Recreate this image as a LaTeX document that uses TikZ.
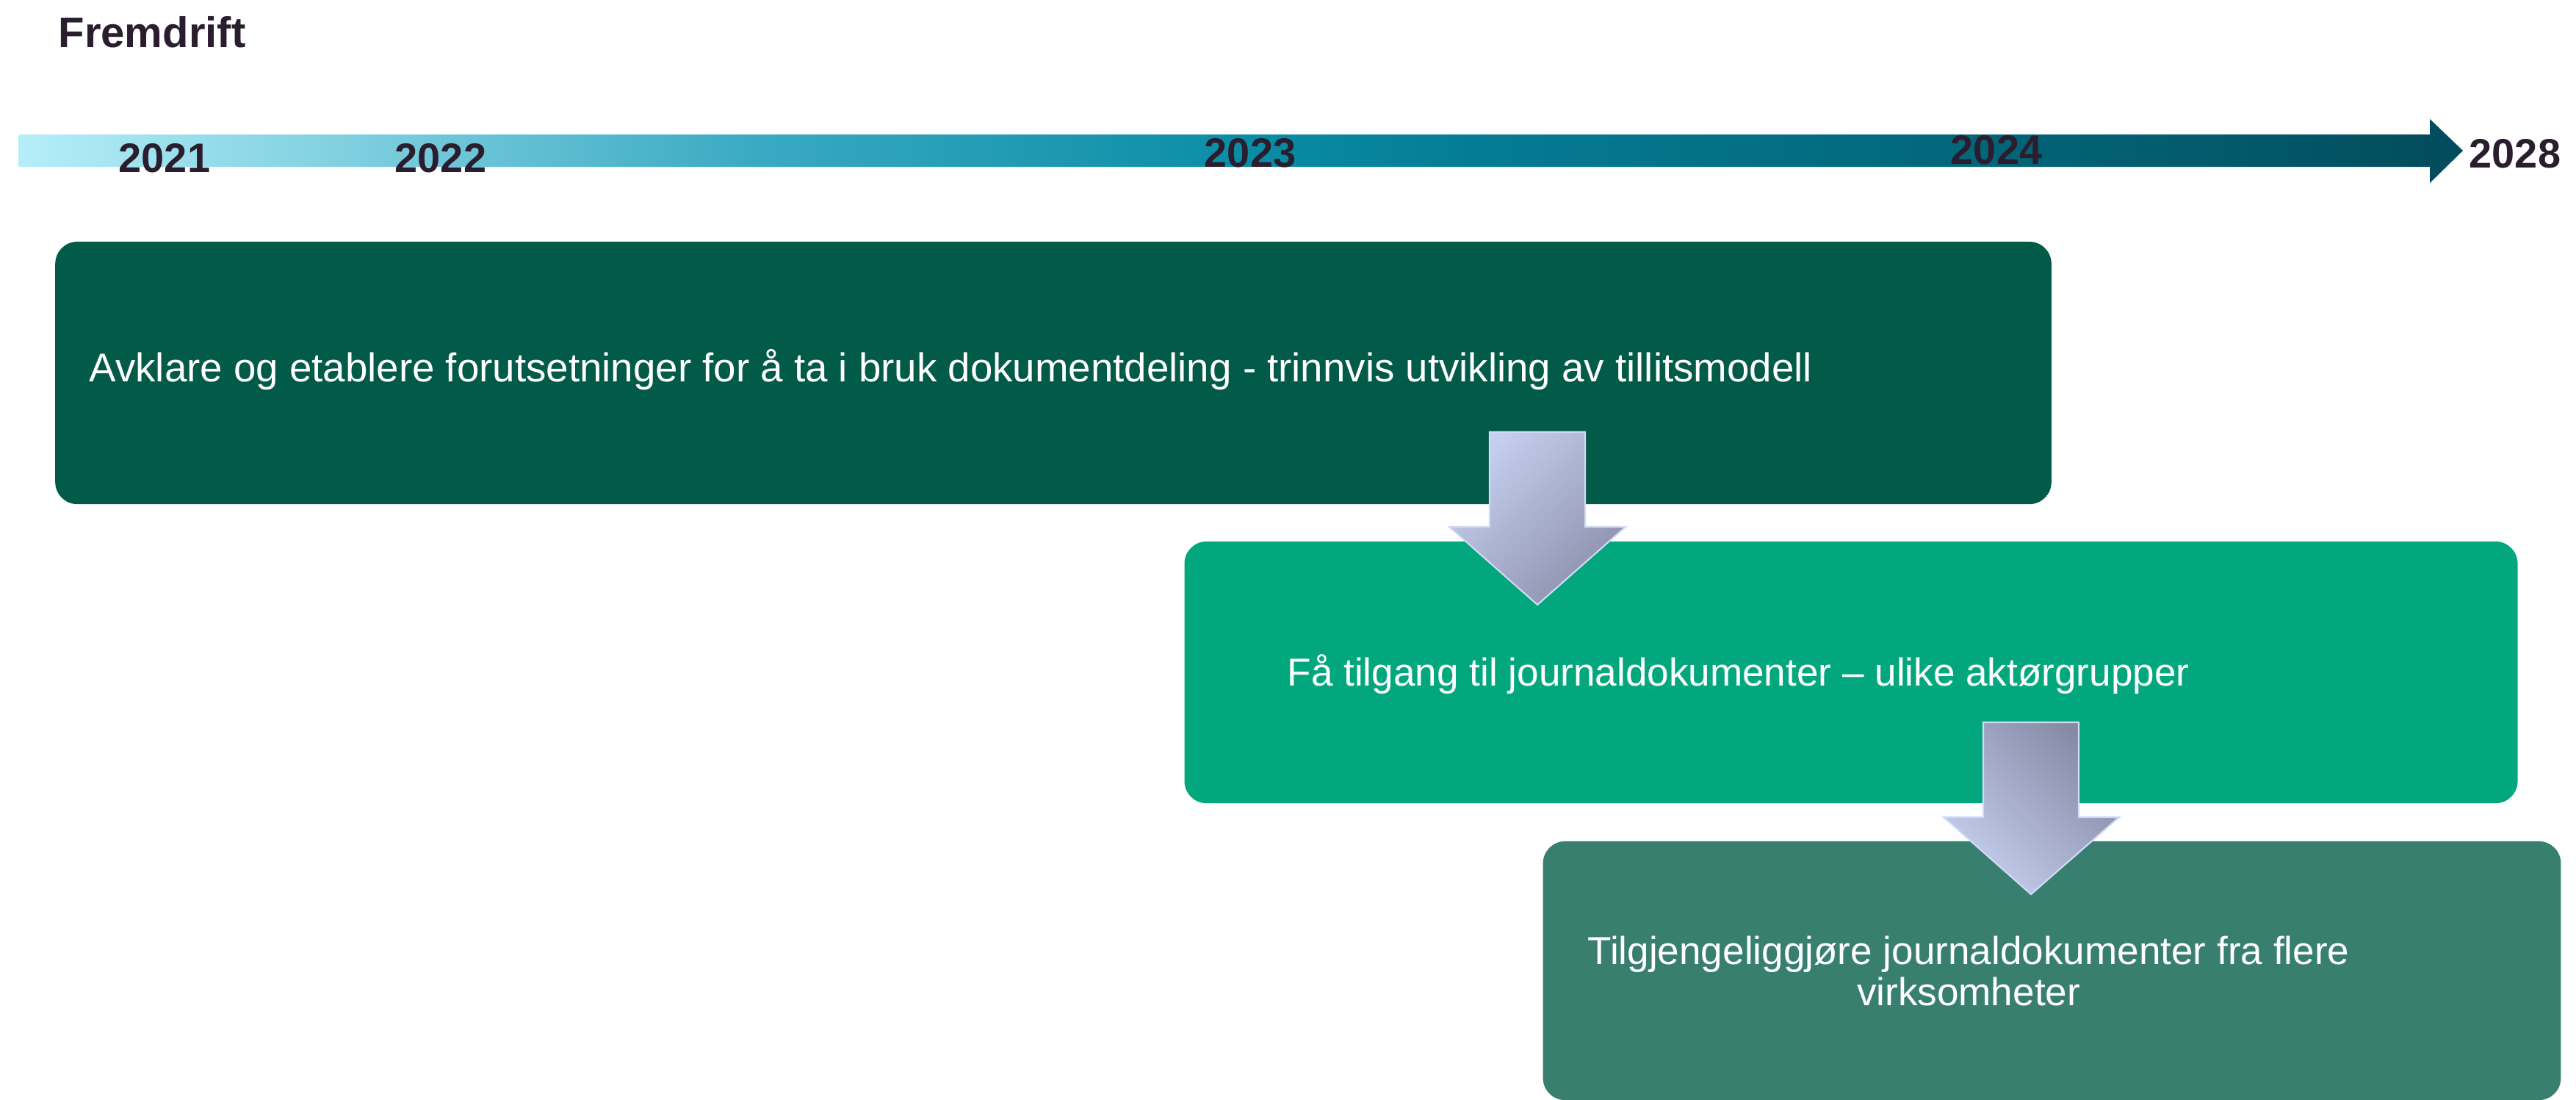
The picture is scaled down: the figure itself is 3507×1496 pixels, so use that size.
\documentclass[tikz,border=0pt]{standalone}
\usepackage{fontspec}
\setmainfont{Liberation Sans}
\usepackage{tikz}
\usetikzlibrary{positioning}

\definecolor{darkgreen}{HTML}{025A48}
\definecolor{midgreen}{HTML}{03A77E}
\definecolor{greygreen}{HTML}{387F70}
\definecolor{yeartext}{HTML}{2A1E2E}
\definecolor{arrowlight}{HTML}{C6CFF0}
\definecolor{arrowdark}{HTML}{8C90AC}
\definecolor{arrowedge}{HTML}{D2DAF6}
\definecolor{tl0}{HTML}{B5EEF9}
\definecolor{tl1}{HTML}{6FC6D8}
\definecolor{tl2}{HTML}{3AAAC3}
\definecolor{tl3}{HTML}{0A8CA5}
\definecolor{tl4}{HTML}{047B94}
\definecolor{tl5}{HTML}{036B80}
\definecolor{tl6}{HTML}{025A6B}
\definecolor{tl7}{HTML}{024B5B}
\pgfdeclarehorizontalshading{timeline}{100bp}{color(0bp)=(tl0); color(25bp)=(tl0);
  color(33.75bp)=(tl1); color(40bp)=(tl2); color(50.25bp)=(tl3); color(55bp)=(tl4);
  color(62.5bp)=(tl5); color(70bp)=(tl6); color(75bp)=(tl7); color(100bp)=(tl7)}

\begin{document}
\begin{tikzpicture}[x=0.01cm, y=-0.01cm,
    box/.style={rounded corners=0.3cm, inner sep=0pt, draw=none},
    boxtext/.style={text=white, inner sep=0pt, font=\fontsize{15.1}{15.9}\selectfont},
    year/.style={text=yeartext, inner sep=0pt, anchor=base, font=\fontsize{15.9}{18}\selectfont\bfseries},
    blockarrow/.style={draw=arrowedge, line width=0.6pt}]
    \useasboundingbox (0,0) rectangle (3507,1496);
    % title
    \node[text=yeartext, inner sep=0pt, anchor=base west, font=\fontsize{16.5}{19}\selectfont\bfseries]
        (fremdrift) at (79,64) {Fremdrift};
    % timeline
    \shade[shading=timeline] (25,183) -- (3308,183) -- (3308,162) -- (3353,205)
        -- (3308,249) -- (3308,227) -- (25,227) -- cycle;
    \node[year] (y2021) at (224,234) {2021};
    \node[year] (y2022) at (600,234) {2022};
    \node[year] (y2023) at (1702,227) {2023};
    \node[year] (y2024) at (2718,223) {2024};
    \node[year, anchor=base west] (y2028) at (3361,228) {2028};
    % boxes
    \node[box, fill=darkgreen, minimum width=27.16cm, minimum height=3.57cm] (avklare) at (1434,507.5) {};
    \node[box, fill=midgreen, minimum width=18.14cm, minimum height=3.56cm] (tilgang) at (2520,915) {};
    \node[box, fill=greygreen, minimum width=13.85cm, minimum height=3.52cm] (tilgjengelig) at (2793.5,1321) {};
    % arrows
    \shade[blockarrow, top color=arrowlight, bottom color=arrowdark, shading angle=45]
        (2028,588) -- (2158,588) -- (2158,717) -- (2213,717) -- (2093,823)
        -- (1973,717) -- (2028,717) -- cycle;
    \shade[blockarrow, top color=arrowdark!95!black, bottom color=arrowlight, shading angle=-45]
        (2700,983) -- (2830,983) -- (2830,1112) -- (2885,1112) -- (2765,1217)
        -- (2646,1112) -- (2700,1112) -- cycle;
    % labels
    \node[boxtext, anchor=base west, font=\fontsize{15.55}{16}\selectfont] (avklaretext) at (121,519)
        {Avklare og etablere forutsetninger for å ta i bruk dokumentdeling - trinnvis utvikling av tillitsmodell};
    \node[boxtext, anchor=base west] (tilgangtext) at (1752,933)
        {Få tilgang til journaldokumenter – ulike aktørgrupper};
    \node[boxtext, anchor=north, align=center] (tilgjengeligtext) at (2680,1273)
        {Tilgjengeliggjøre journaldokumenter fra flere\\virksomheter};
\end{tikzpicture}
\end{document}
